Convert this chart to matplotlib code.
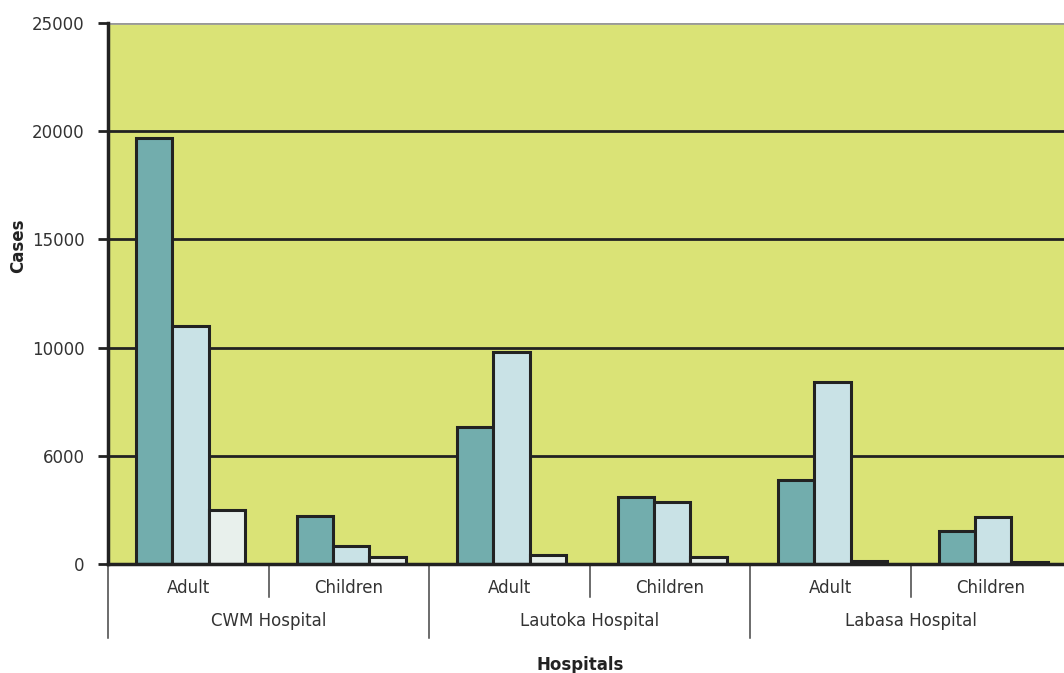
import matplotlib
matplotlib.use("Agg")
import matplotlib.pyplot as plt
import numpy as np
from matplotlib.transforms import blended_transform_factory

# values
hospitals = ["CWM Hospital", "Lautoka Hospital", "Labasa Hospital"]
groups = ["Adult", "Children"]
series_a = [19700, 2200, 6330, 3100, 3880, 1520]
series_b = [11000, 830, 9800, 2870, 8410, 2170]
series_c = [2500, 320, 420, 320, 130, 70]
ytick_vals = [0, 5000, 10000, 15000, 20000, 25000]
ytick_text = ["0", "6000", "10000", "15000", "20000", "25000"]

colors = ["#72adad", "#c9e2e6", "#e8f0ec"]
bg = "#dae376"
edge = "#222222"

plt.rcParams["font.family"] = ["DejaVu Sans"]

fig = plt.figure(figsize=(10.64, 6.73), dpi=100)
ax = fig.add_axes([108 / 1064, 109 / 673, 963 / 1064, 541 / 673])
ax.set_facecolor(bg)

n = len(series_a)
x = np.arange(n)
w = 0.227
for k, vals in enumerate([series_a, series_b, series_c]):
    ax.bar(x + (k - 1) * w + 0.015, vals, width=w, color=colors[k],
           edgecolor=edge, linewidth=2.2, zorder=3)

ax.set_xlim(-0.5, n - 0.5)
ax.set_ylim(0, 25000)
ax.set_yticks(ytick_vals)
ax.set_yticklabels(ytick_text, fontsize=12, color="#333333")
ax.tick_params(axis="y", length=7, width=2, color=edge, pad=10)
ax.set_xticks([])
for yv in ytick_vals[1:-1]:
    ax.axhline(yv, color=edge, lw=2, zorder=1)
ax.axhline(25000, color="#999999", lw=2, zorder=1)

for s in ["top", "right"]:
    ax.spines[s].set_visible(False)
ax.spines["left"].set_color(edge)
ax.spines["left"].set_linewidth(2.5)
ax.spines["bottom"].set_color(edge)
ax.spines["bottom"].set_linewidth(2.5)
ax.spines["bottom"].set_zorder(4)

# two-level category axis below the plot
tr = blended_transform_factory(ax.transData, ax.transAxes)
px = 1 / 541  # one pixel in axes-height units
for i in range(n + 1):
    xb = i - 0.5
    bottom = -74 * px if i % 2 == 0 else -33 * px
    ax.plot([xb, xb], [0, bottom], transform=tr, color="#444444", lw=1.1,
            clip_on=False)
for i in range(n):
    ax.text(i, -24 * px, groups[i % 2], transform=tr, ha="center", va="center",
            fontsize=12, color="#333333")
for j, h in enumerate(hospitals):
    ax.text(2 * j + 0.5, -57 * px, h, transform=tr, ha="center", va="center",
            fontsize=12, color="#333333")

ax.text(0.49, -101 * px, "Hospitals", transform=ax.transAxes, ha="center",
        va="center", fontsize=12, fontweight="bold", color="#222222")
fig.text(18 / 1064, 1 - 246 / 673, "Cases", rotation=90, ha="center",
         va="center", fontsize=12, fontweight="bold", color="#222222")

fig.savefig("out.png", dpi=100)
